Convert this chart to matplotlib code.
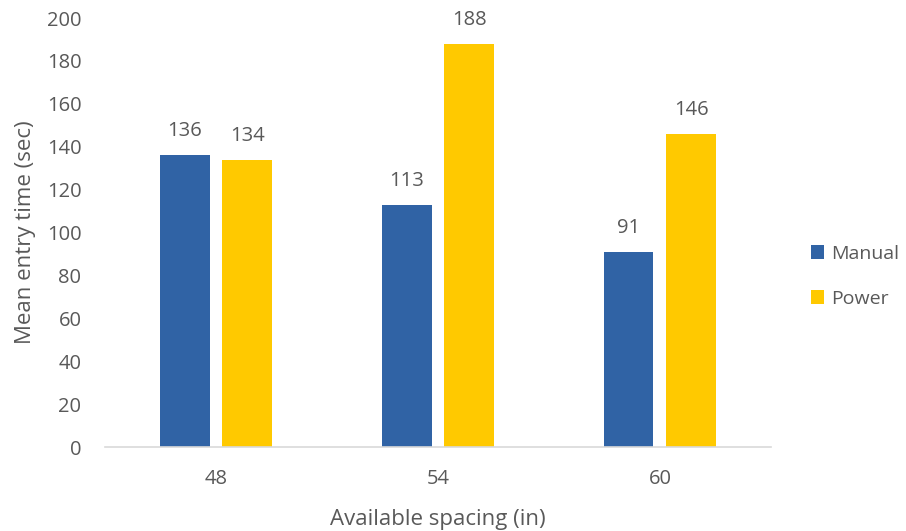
import matplotlib
matplotlib.use("Agg")
import matplotlib.pyplot as plt
import numpy as np

plt.rcParams['font.family'] = ['Open Sans', 'DejaVu Sans']

categories = ["48", "54", "60"]
manual = [136, 113, 91]
power = [134, 188, 146]
series_names = ["Manual", "Power"]
colors = ["#3063A5", "#FFC900"]
text_color = "#595959"

fig = plt.figure(figsize=(9.06, 5.31), dpi=100)
ax = fig.add_axes([0.1159, 0.158, 0.735, 0.808])

x = np.arange(len(categories))
width = 0.225
offset = 0.1416

bars_m = ax.bar(x - offset, manual, width, color=colors[0], label=series_names[0])
bars_p = ax.bar(x + offset, power, width, color=colors[1], label=series_names[1])

for bars, vals in ((bars_m, manual), (bars_p, power)):
    for b, v in zip(bars, vals):
        ax.annotate(str(v), (b.get_x() + b.get_width() / 2, v),
                    xytext=(0, 10), textcoords="offset points",
                    ha="center", va="bottom", fontsize=14.5, color=text_color)

ax.set_xlim(-0.5, 2.5)
ax.set_ylim(0, 200)
ax.set_yticks(range(0, 201, 20))
ax.set_xticks(x)
ax.set_xticklabels(categories)

for s in ("top", "right", "left"):
    ax.spines[s].set_visible(False)
ax.spines["bottom"].set_color("#D9D9D9")
ax.spines["bottom"].set_linewidth(1.2)
ax.tick_params(axis="both", length=0, labelsize=14.5, colors=text_color)
ax.tick_params(axis="x", pad=16)
ax.tick_params(axis="y", pad=17)

ax.set_xlabel("Available spacing (in)", fontsize=16, color=text_color, labelpad=14)
ax.set_ylabel("Mean entry time (sec)", fontsize=16, color=text_color, labelpad=8)

fig.legend(loc="center left", bbox_to_anchor=(0.895, 0.48), frameon=False,
           borderpad=0, borderaxespad=0,
           fontsize=14, labelcolor=text_color, handlelength=0.7, handleheight=0.7,
           handletextpad=0.35, labelspacing=1.4)

fig.savefig("out.png", dpi=100)
